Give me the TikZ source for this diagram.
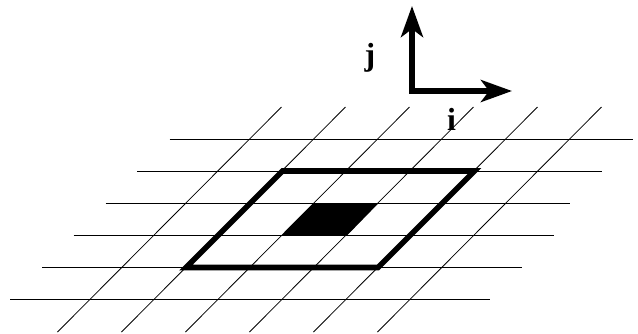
\documentclass[tikz,border=0pt]{standalone}
\usepackage{fontspec}
\setmainfont{Liberation Serif}
\usetikzlibrary{arrows.meta}

\tikzset{
  gridline/.style={line width=0.8pt, black},
  framebox/.style={line width=5.6pt, black, line join=miter},
  axisline/.style={line width=5.4pt, black, {Stealth[length=31pt, width=22pt, inset=8pt]}-{Stealth[length=31pt, width=22pt, inset=8pt]}},
  axislabel/.style={font=\fontsize{32}{32}\selectfont\bfseries, inner sep=0pt}
}

\begin{document}
\begin{tikzpicture}[x=1pt, y=-1pt]
        \useasboundingbox (0,0) rectangle (638,333);

        % Horizontal lines
        \draw[gridline] (169.5,139) -- (633,139);
        \draw[gridline] (137,171) -- (601.5,171);
        \draw[gridline] (105.5,203) -- (569.5,203);
        \draw[gridline] (73.5,235.5) -- (553.5,235.5);
        \draw[gridline] (42,267.5) -- (521.5,267.5);
        \draw[gridline] (10,299.5) -- (489.5,299.5);

        % Slanted lines
        \draw[gridline] (57.5,332) -- (281.5,107);
        \draw[gridline] (121.5,332) -- (345.5,107);
        \draw[gridline] (185.5,332) -- (409.5,107);
        \draw[gridline] (249.5,332) -- (473.5,107);
        \draw[gridline] (313.5,332) -- (537.5,107);
        \draw[gridline] (377.5,332) -- (601.5,107);

        % Thick frame
        \draw[framebox] (186,267.5) -- (378,267.5) -- (474.5,171) -- (282.5,171) -- cycle;

        % Black cell
        \fill[black] (282,235.5) -- (347,235.5) -- (378.5,203) -- (314,203) -- cycle;

        % Axes
        \coordinate (orig) at (412,91);
        \coordinate (jtip) at (412,6);
        \coordinate (itip) at (512,91);
        \draw[axisline] (jtip) -- (orig) -- (itip);

        % Labels
        \node[axislabel] (jlabel) at (370,58) {j};
        \node[axislabel] (ilabel) at (451.5,119) {i};
\end{tikzpicture}
\end{document}
